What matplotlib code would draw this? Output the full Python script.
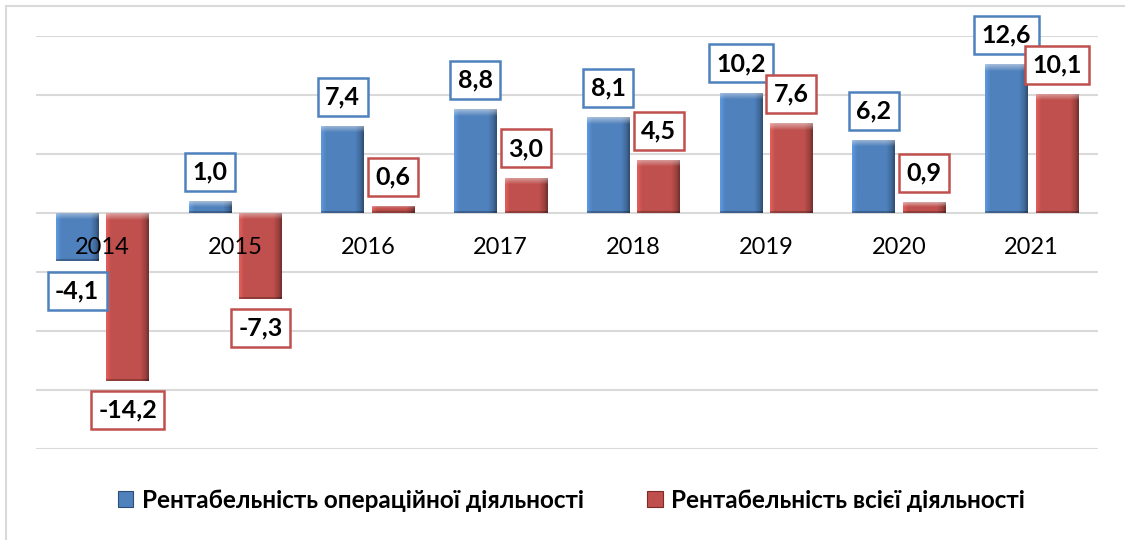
import numpy as np
import matplotlib
matplotlib.use('Agg')
from matplotlib import pyplot as plt
from matplotlib.colors import to_rgb
from matplotlib.patches import Rectangle

plt.rcParams['font.family'] = ['Lato', 'Open Sans', 'DejaVu Sans']

years = ['2014', '2015', '2016', '2017', '2018', '2019', '2020', '2021']
operating = [-4.1, 1.0, 7.4, 8.8, 8.1, 10.2, 6.2, 12.6]
total = [-14.2, -7.3, 0.6, 3.0, 4.5, 7.6, 0.9, 10.1]
series_names = ['Рентабельність операційної діяльності', 'Рентабельність всієї діяльності']

blue = '#4f81bd'
red = '#c0504d'


def bevel_image(color, h_px):
    # horizontal profile: light left edge, flat middle, dark right edge
    base = np.array(to_rgb(color))
    n = 60
    t = np.linspace(0, 1, n)
    shade = np.interp(t, [0, 0.12, 0.8, 0.92, 1], [1.18, 1.0, 1.0, 0.82, 0.6])
    rows = max(int(round(h_px)), 2)
    img = np.ones((rows, n, 3)) * base
    img = img * shade[None, :, None]
    top = min(7, rows // 2)
    if top > 0:
        k = np.linspace(0.5, 0.05, top)[:, None, None]
        img[:top] = img[:top] * (1 - k) + k * 0.95
    bot = min(2, rows // 3)
    if bot > 0:
        img[-bot:] = img[-bot:] * 0.75
    return np.clip(img, 0, 1)


fig = plt.figure(figsize=(11.25, 5.4), dpi=100)
ax = fig.add_axes([36 / 1125, 1 - 449 / 540, 1062 / 1125, 413 / 540])

x = np.arange(len(years))
w = 0.32
off = 0.19

bars_b = ax.bar(x - off, operating, w, color=blue, zorder=3, label=series_names[0])
bars_r = ax.bar(x + off, total, w, color=red, zorder=3, label=series_names[1])

ax.set_xlim(-0.5, len(years) - 0.5)
ax.set_ylim(-20, 15)
px_per_unit = 413 / 35

for bars, c in [(bars_b, blue), (bars_r, red)]:
    for p in bars:
        x0, y0 = p.get_x(), p.get_y()
        x1, y1 = x0 + p.get_width(), y0 + p.get_height()
        img = bevel_image(c, abs(y1 - y0) * px_per_unit)
        im = ax.imshow(img, aspect='auto', extent=[x0, x1, min(y0, y1), max(y0, y1)],
                       zorder=3.5, interpolation='bilinear')
        im.set_clip_path(p)
        p.set_edgecolor('none')

# value labels in boxes
for bars, vals, ec in [(bars_b, operating, blue), (bars_r, total, red)]:
    for p, v in zip(bars, vals):
        cx = p.get_x() + p.get_width() / 2
        dy = 21 if v >= 0 else -21
        ax.annotate(f'{v:.1f}'.replace('.', ','), (cx, v), xytext=(0, dy), textcoords='offset points',
                    ha='center', va='center', fontsize=18, fontweight='bold', zorder=6,
                    bbox=dict(boxstyle='square,pad=0.3', fc='white', ec=ec, lw=1.8),
                    annotation_clip=False)

# category labels sit on top of the bars, just below the zero line
for i, yr in enumerate(years):
    ax.annotate(yr, (i, 0), xytext=(0, -25), textcoords='offset points', ha='center', va='center',
                fontsize=17, zorder=7)

ax.set_yticks(np.arange(-20, 16, 5))
ax.yaxis.grid(True, color='#d9d9d9', linewidth=1.5, zorder=0)
ax.set_axisbelow(True)
ax.tick_params(axis='y', left=False, labelleft=False)
ax.set_xticks([])
for s in ['top', 'left', 'right', 'bottom']:
    ax.spines[s].set_visible(False)

leg = fig.legend(loc='center', bbox_to_anchor=(0.508, 1 - 500 / 540), ncol=2, frameon=False,
                 prop={'weight': 'bold', 'size': 17.5}, handlelength=0.65, handleheight=0.65,
                 handletextpad=0.35, columnspacing=2.6)
for h, c in zip(leg.legend_handles, ['#2c4d78', '#7d2b29']):
    h.set_edgecolor(c)
    h.set_linewidth(0.8)

# chart area border (only left/top visible in crop)
fig.patches.append(Rectangle((6 / 1125, -0.1), 1.2, 1 - 6 / 540 + 0.1, transform=fig.transFigure,
                             fill=False, ec='#d9d9d9', lw=1.5))

fig.savefig('out.png', dpi=100)
